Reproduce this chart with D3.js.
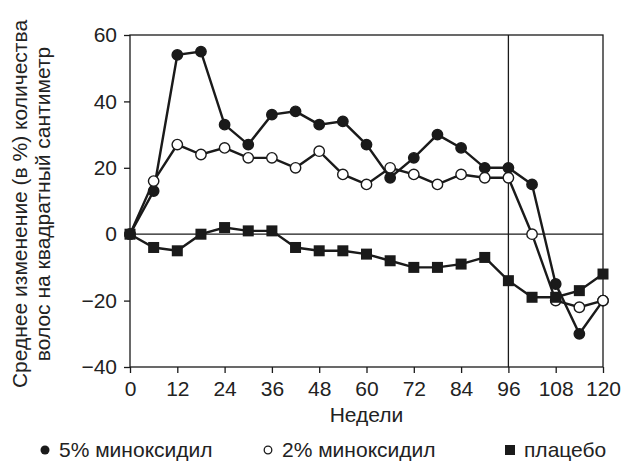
<!DOCTYPE html>
<html>
<head>
<meta charset="utf-8">
<script src="https://cdn.jsdelivr.net/npm/d3@7"></script>
<style>
  body { margin: 0; background: #fff; }
  svg text { font-family: "Liberation Sans", Arial, sans-serif; fill: #222; }
</style>
</head>
<body>
<div id="chart"></div>
<script>
// weeks and the three series (% change in hair count per cm2)
let weeks = [0, 6, 12, 18, 24, 30, 36, 42, 48, 54, 60, 66, 72, 78, 84, 90, 96, 102, 108, 114, 120]
let minox5 = [0, 13, 54, 55, 33, 27, 36, 37, 33, 34, 27, 17, 23, 30, 26, 20, 20, 15, -15, -30, -20]
let minox2 = [0, 16, 27, 24, 26, 23, 23, 20, 25, 18, 15, 20, 18, 15, 18, 17, 17, 0, -20, -22, -20]
let placebo = [0, -4, -5, 0, 2, 1, 1, -4, -5, -5, -6, -8, -10, -10, -9, -7, -14, -19, -19, -17, -12]
let xTicks = [0, 12, 24, 36, 48, 60, 72, 84, 96, 108, 120]
let yTicks = [-40, -20, 0, 20, 40, 60]
let legendLabels = ["5% миноксидил", "2% миноксидил", "плацебо"]

let W = 623, H = 463
let margin = {top: 35, right: 20, bottom: 96, left: 130}
let width = W - margin.left - margin.right,
    height = H - margin.top - margin.bottom

let svg = d3.select("#chart").append("svg")
    .attr("width", W)
    .attr("height", H)
let g = svg.append("g")
    .attr("transform", "translate(" + margin.left + "," + margin.top + ")")

let x = d3.scaleLinear().domain([0, 120]).range([0, width])
let y = d3.scaleLinear().domain([-40, 60]).range([height, 0])

let ink = "#1a1a1a"
let fs = "21px"

// frame
g.append("rect")
  .attr("width", width).attr("height", height)
  .attr("fill", "none").attr("stroke", ink).attr("stroke-width", 1.3)

// zero line and week-96 line
g.append("line")
  .attr("x1", 0).attr("x2", width)
  .attr("y1", y(0)).attr("y2", y(0))
  .attr("stroke", ink).attr("stroke-width", 1.3)
g.append("line")
  .attr("x1", x(96)).attr("x2", x(96))
  .attr("y1", 0).attr("y2", height)
  .attr("stroke", ink).attr("stroke-width", 1.3)

// axes
let xAxis = g.append("g")
  .attr("transform", "translate(0," + height + ")")
  .call(d3.axisBottom(x).tickValues(xTicks).tickSize(6).tickPadding(8))
let yAxis = g.append("g")
  .call(d3.axisLeft(y).tickValues(yTicks).tickSize(6).tickPadding(7)
    .tickFormat(d => d < 0 ? "\u2212" + Math.abs(d) : d))
;[xAxis, yAxis].forEach(a => {
  a.selectAll("line, path").attr("stroke", ink).attr("stroke-width", 1.3)
  a.selectAll("text").style("font-size", fs).attr("fill", "#222")
  a.select(".domain").remove()
})

// series
let line = d3.line().x((d, i) => x(weeks[i])).y(d => y(d))
let series = [
  {vals: minox5, type: "filled"},
  {vals: minox2, type: "open"},
  {vals: placebo, type: "square"}
]
series.forEach(s => {
  g.append("path")
    .datum(s.vals)
    .attr("d", line)
    .attr("fill", "none")
    .attr("stroke", ink)
    .attr("stroke-width", 2.4)
})
series.forEach(s => {
  let pts = g.append("g").selectAll("g")
    .data(s.vals)
    .enter()
  if (s.type == "square") {
    pts.append("rect")
      .attr("x", (d, i) => x(weeks[i]) - 5.5)
      .attr("y", d => y(d) - 5.5)
      .attr("width", 11).attr("height", 11)
      .attr("fill", ink)
  } else {
    pts.append("circle")
      .attr("cx", (d, i) => x(weeks[i]))
      .attr("cy", d => y(d))
      .attr("r", 5.2)
      .attr("fill", s.type == "filled" ? ink : "#fff")
      .attr("stroke", ink)
      .attr("stroke-width", 1.4)
  }
})

// axis titles
svg.append("text")
  .attr("x", margin.left + width / 2)
  .attr("y", 422)
  .attr("text-anchor", "middle")
  .style("font-size", fs)
  .text("Недели")

let yTitle = svg.append("text")
  .attr("transform", "translate(27,204) rotate(-90)")
  .attr("text-anchor", "middle")
  .style("font-size", fs)
yTitle.append("tspan").attr("x", 0).attr("dy", 0).text("Среднее изменение (в %) количества")
yTitle.append("tspan").attr("x", 0).attr("dy", 23).text("волос на квадратный сантиметр")

// legend
let legX = [45, 268, 510]
let legY = 457
let leg = svg.append("g")
leg.append("circle").attr("cx", legX[0]).attr("cy", legY - 7).attr("r", 4.5).attr("fill", ink)
leg.append("circle").attr("cx", legX[1]).attr("cy", legY - 7).attr("r", 3.8)
  .attr("fill", "#fff").attr("stroke", ink).attr("stroke-width", 1.3)
leg.append("rect").attr("x", legX[2] - 5).attr("y", legY - 12).attr("width", 10).attr("height", 10).attr("fill", ink)
legendLabels.forEach((t, i) => {
  leg.append("text")
    .attr("x", legX[i] + 14)
    .attr("y", legY)
    .style("font-size", fs)
    .text(t)
})
</script>
</body>
</html>
